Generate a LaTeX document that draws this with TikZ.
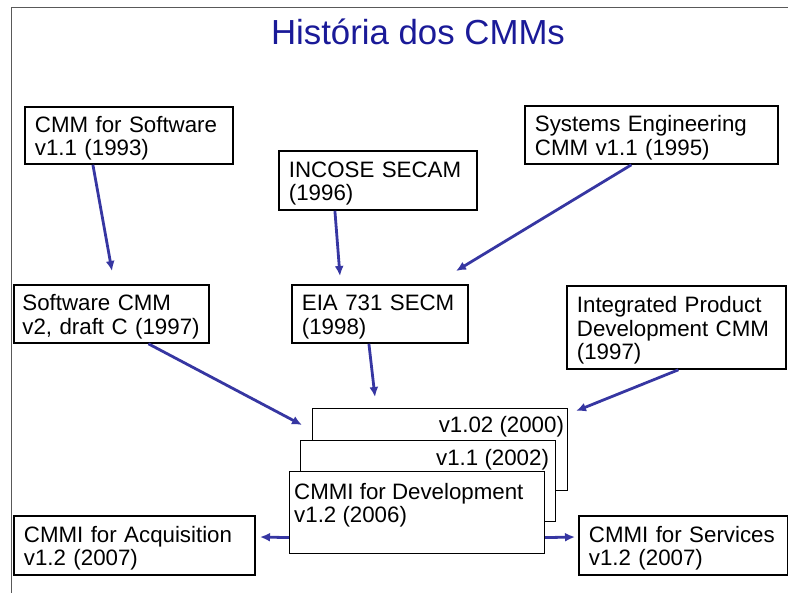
\documentclass[tikz,border=0pt]{standalone}
\usepackage{fontspec}
\setmainfont{Liberation Sans}
\usetikzlibrary{arrows.meta}
\definecolor{titleblue}{RGB}{26,26,152}
\definecolor{flowblue}{RGB}{54,54,162}
\begin{document}
\begin{tikzpicture}[x=1pt, y=-1pt,
                txt/.style={font=\fontsize{22.3}{23.5}\selectfont},
                box/.style={txt, draw, line width=1.8pt, anchor=north west, inner xsep=10pt, inner ysep=0pt, align=left, text height=22pt},
                stack/.style={draw, fill=white, line width=1.2pt, anchor=north west, inner sep=0pt},
                flow/.style={draw=flowblue, line width=2.8pt, -{Latex[length=10pt,width=9pt]}}]
                \useasboundingbox (0, 0) rectangle (788, 593);
                \draw[black!65, line width=1pt] (11.5, 593) -- (11.5, 7.5) -- (788, 7.5);
                \node[anchor=base, text=titleblue, font=\fontsize{34.8}{40}\selectfont] (title) at (418, 45) {História dos CMMs};
                \node[box, text width=188pt, minimum height=57pt] (sw93) at (24, 106) {CMM for Software\\v1.1 (1993)};
                \node[box, text width=178pt, minimum height=59pt] (incose) at (278, 150) {INCOSE SECAM\\(1996)};
                \node[box, text width=233pt, minimum height=58pt] (secmm) at (524, 105) {Systems Engineering\\CMM v1.1 (1995)};
                \node[box, inner xsep=8.5pt, text width=178pt, minimum height=58pt] (swv2) at (13, 284) {Software CMM\\v2, draft C (1997)};
                \node[box, text width=156pt, minimum height=58pt] (eia) at (291, 284) {EIA 731 SECM\\(1998)};
                \node[box, text width=199pt, minimum height=83pt] (ipd) at (566, 285) {Integrated Product\\Development CMM\\(1997)};
                \node[stack, minimum width=255pt, minimum height=82pt] (v102) at (312, 408) {};
                \node[txt, anchor=base east, inner sep=0pt] (v102txt) at ([xshift=-4pt, yshift=-25pt]v102.north east) {v1.02 (2000)};
                \node[stack, minimum width=255pt, minimum height=81pt] (v11) at (300, 440) {};
                \node[txt, anchor=base east, inner sep=0pt] (v11txt) at ([xshift=-7pt, yshift=-26pt]v11.north east) {v1.1 (2002)};
                \node[stack, minimum width=255pt, minimum height=82pt] (dev) at (289, 471) {};
                \node[txt, anchor=north west, inner sep=0pt, align=left] (devtxt) at ([xshift=5pt, yshift=-12pt]dev.north west) {CMMI for Development\\v1.2 (2006)};
                \node[box, text width=221pt, minimum height=59pt] (acq) at (13, 515) {CMMI for Acquisition\\v1.2 (2007)};
                \node[box, text width=189pt, minimum height=59pt] (svc) at (578, 515) {CMMI for Services\\v1.2 (2007)};
                \coordinate (tipsw) at (112, 271);
                \coordinate (tipincose) at (340, 276);
                \coordinate (tipsecmm) at (456, 271);
                \coordinate (tipswv2) at (302, 425);
                \coordinate (tipeia) at (375, 397);
                \coordinate (tipipd) at (576, 411);
                \coordinate (tipacq) at (260, 537);
                \coordinate (tipsvc) at (575, 537);
                \draw[flow] ([xshift=-36pt]sw93.south) -- (tipsw);
                \draw[flow] ([xshift=-43pt]incose.south) -- (tipincose);
                \draw[flow] ([xshift=-20pt]secmm.south) -- (tipsecmm);
                \draw[flow] ([xshift=37pt]swv2.south) -- (tipswv2);
                \draw[flow] ([xshift=-11pt]eia.south) -- (tipeia);
                \draw[flow] ([xshift=2pt]ipd.south) -- (tipipd);
                \draw[flow] ([yshift=-25pt]dev.west) -- (tipacq);
                \draw[flow] ([yshift=-25pt]dev.east) -- (tipsvc);
\end{tikzpicture}
\end{document}
